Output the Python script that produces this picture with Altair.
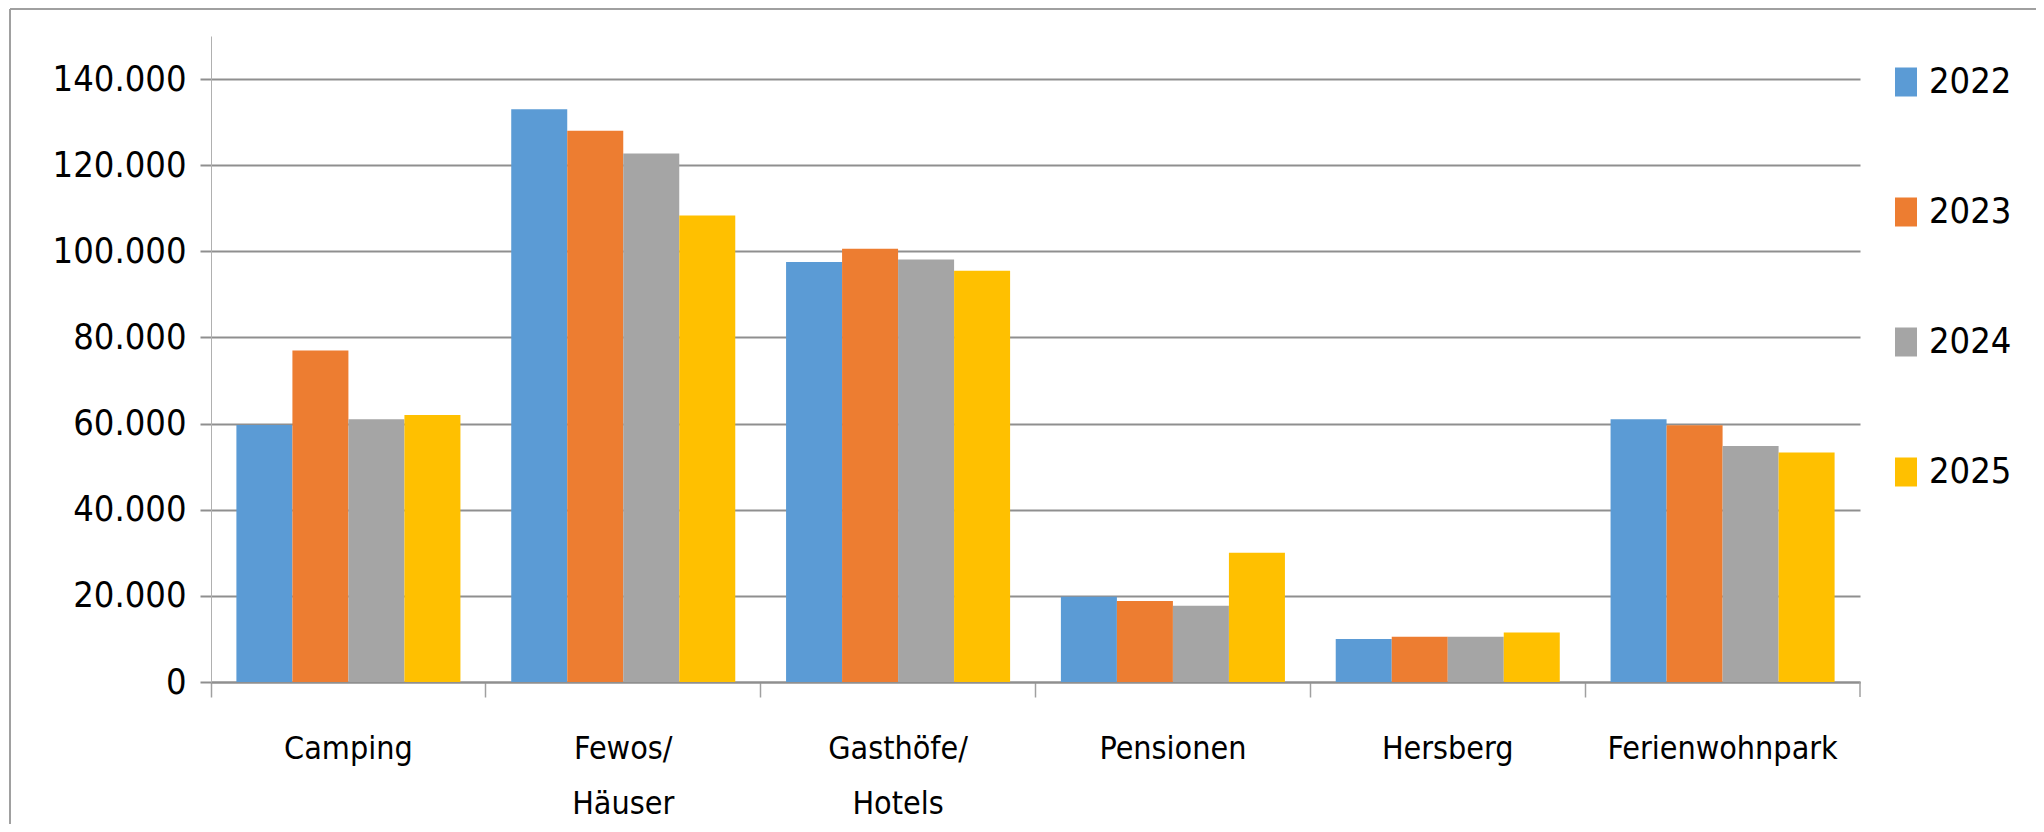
import altair as alt
import pandas as pd

categories = ["Camping", "Fewos/ Häuser", "Gasthöfe/ Hotels", "Pensionen", "Hersberg", "Ferienwohnpark"]
years = ["2022", "2023", "2024", "2025"]
v2022 = [59700, 133000, 97500, 19800, 10000, 61000]
v2023 = [77000, 128000, 100600, 18800, 10500, 59600]
v2024 = [61000, 122700, 98100, 17700, 10500, 54800]
v2025 = [62000, 108300, 95500, 30000, 11500, 53300]
colors = ["#5B9BD5", "#ED7D31", "#A5A5A5", "#FFC000"]
y_ticks = [0, 20000, 40000, 60000, 80000, 100000, 120000, 140000]

rows = []
for yr, vals in zip(years, [v2022, v2023, v2024, v2025]):
    for c, v in zip(categories, vals):
        rows.append({"Kategorie": c, "Jahr": yr, "Wert": v})
df = pd.DataFrame(rows)

FONT = "DejaVu Sans Condensed, DejaVu Sans, sans-serif"
W, H = 1649, 646
PL, PT = 203, 28

bars = alt.Chart(df).mark_bar().encode(
    x=alt.X("Kategorie:N", sort=categories,
            scale=alt.Scale(paddingInner=0, paddingOuter=0),
            axis=alt.Axis(title=None, labelAngle=0, bandPosition=0,
                          labelExpr="split(datum.label, ' ')",
                          labelLineHeight=55, labelFontSize=32, labelFont=FONT,
                          labelColor="#000000", labelPadding=36, labelLimit=0,
                          tickSize=15, tickColor="#a0a0a0", tickWidth=1.5,
                          domainColor="#8f8f8f", domainWidth=2, grid=False)),
    xOffset=alt.XOffset("Jahr:N", sort=years,
                        scale=alt.Scale(paddingInner=0, paddingOuter=0.4535)),
    y=alt.Y("Wert:Q", scale=alt.Scale(domain=[0, 150000], nice=False),
            axis=alt.Axis(title=None, values=y_ticks,
                          labelExpr="replace(format(datum.value, ','), ',', '.')",
                          labelFontSize=36, labelFont=FONT, labelColor="#000000",
                          labelPadding=14, labelLimit=0,
                          tickSize=11, tickColor="#8f8f8f", tickWidth=2,
                          domainColor="#b0b0b0", domainWidth=1,
                          gridColor="#8f8f8f", gridWidth=2)),
    color=alt.Color("Jahr:N", sort=years,
                    scale=alt.Scale(domain=years, range=colors),
                    legend=alt.Legend(title=None, orient="none",
                                      legendX=1677, legendY=28,
                                      symbolType="M-0.76,-1H0.76V1H-0.76Z",
                                      symbolSize=841, symbolStrokeWidth=0,
                                      symbolOpacity=1,
                                      labelFontSize=36, labelFont=FONT,
                                      labelColor="#000000", labelOffset=5,
                                      labelLimit=0,
                                      rowPadding=94, padding=0)),
)

one = pd.DataFrame({"k": [0]})
frame_top = alt.Chart(one).mark_rule(color="#a0a0a0", strokeWidth=2).encode(
    x=alt.value(-201), x2=alt.value(2044 - 211), y=alt.value(-27), y2=alt.value(-27))
frame_left = alt.Chart(one).mark_rule(color="#a0a0a0", strokeWidth=2).encode(
    x=alt.value(-201), x2=alt.value(-201), y=alt.value(-27), y2=alt.value(832 - 36))
end_tick = alt.Chart(one).mark_rule(color="#a0a0a0", strokeWidth=1.5).encode(
    x=alt.value(W), x2=alt.value(W), y=alt.value(H), y2=alt.value(H + 15))

chart = alt.layer(bars, frame_top, frame_left, end_tick).properties(
    width=W, height=H,
    autosize=alt.AutoSizeParams(type="none"),
    padding={"left": PL, "top": PT, "right": 2028 - PL - W, "bottom": 816 - PT - H},
    background="white",
).configure_view(stroke=None)

chart.save("out.html", embed_options={"renderer": "svg", "actions": False})
